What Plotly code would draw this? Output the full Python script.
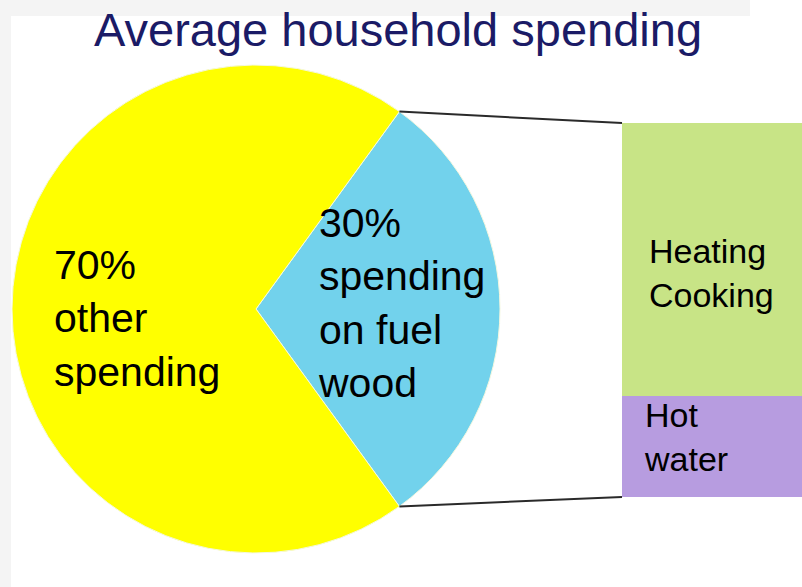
import math

import plotly.graph_objects as go

# ========= data =========
PIE_LABELS = ["spending on fuel wood", "other spending"]
PIE_VALUES = [30, 70]
PIE_COLORS = ["#72d2ec", "#ffff00"]

BAR_LABELS = ["Hot water", "Heating Cooking"]
BAR_VALUES = [27, 73]
BAR_COLORS = ["#b79ce0", "#c8e486"]

TITLE = "Average household spending"

# ========= page geometry (px) =========
W, H = 802, 587
PIE_BOX = (12, 65, 500, 553)       # left, top, right, bottom
BAR_BOX = (622, 123, 802, 497)
TEXT_FONT = "Liberation Sans, Arial, sans-serif"


def px(x):
    return x / W


def py(y):
    return 1 - y / H


fig = go.Figure()

# background strips (slide look)
fig.add_shape(type="rect", xref="paper", yref="paper", x0=0, x1=px(11), y0=0, y1=1,
              fillcolor="#f4f4f4", line_width=0, layer="below")
fig.add_shape(type="rect", xref="paper", yref="paper", x0=0, x1=px(750), y0=py(16), y1=1,
              fillcolor="#f4f4f4", line_width=0, layer="below")

# pie: fuel wood slice centred on 3 o'clock
share = PIE_VALUES[0] / sum(PIE_VALUES)
half = share * 180
fig.add_trace(go.Pie(
    labels=PIE_LABELS, values=PIE_VALUES, sort=False,
    direction="clockwise", rotation=90 - half,
    marker=dict(colors=PIE_COLORS, line=dict(color="#f4f8e0", width=1)),
    textinfo="none", hoverinfo="label+percent", showlegend=False,
    domain=dict(x=[px(PIE_BOX[0]), px(PIE_BOX[2])], y=[py(PIE_BOX[3]), py(PIE_BOX[1])]),
))

# stacked bar of the fuel wood share
for lab, val, col in zip(BAR_LABELS, BAR_VALUES, BAR_COLORS):
    fig.add_trace(go.Bar(
        x=[0], y=[val], width=1, name=lab, marker=dict(color=col, line_width=0),
        xaxis="x2", yaxis="y2", showlegend=False, hoverinfo="name+y",
    ))

# connector lines from slice edges to bar corners
cx = (PIE_BOX[0] + PIE_BOX[2]) / 2
cy = (PIE_BOX[1] + PIE_BOX[3]) / 2
r = (PIE_BOX[2] - PIE_BOX[0]) / 2
a = math.radians(half)
ex = cx + r * math.cos(a)
for sgn, by in [(-1, BAR_BOX[1]), (1, BAR_BOX[3])]:
    ey = cy + sgn * r * math.sin(a)
    fig.add_shape(type="line", xref="paper", yref="paper",
                  x0=px(ex), y0=py(ey), x1=px(BAR_BOX[0]), y1=py(by),
                  line=dict(color="#2a2a2a", width=2))

# texts
fig.add_annotation(x=px(398), y=py(29), xref="paper", yref="paper", text=TITLE,
                   showarrow=False, xanchor="center", yanchor="middle",
                   font=dict(family=TEXT_FONT, size=47, color="#1b1b66"))
fig.add_annotation(x=px(52), y=py(318), xref="paper", yref="paper",
                   text=f"{PIE_VALUES[1]}%<br>other<br>spending",
                   showarrow=False, xanchor="left", yanchor="middle", align="left",
                   font=dict(family=TEXT_FONT, size=41, color="#000000"))
fig.add_annotation(x=px(316), y=py(303), xref="paper", yref="paper",
                   text=f"{PIE_VALUES[0]}%<br>spending<br>on fuel<br>wood",
                   showarrow=False, xanchor="left", yanchor="middle", align="left",
                   font=dict(family=TEXT_FONT, size=41, color="#000000"))
fig.add_annotation(x=px(647), y=py(273), xref="paper", yref="paper",
                   text="Heating<br>Cooking",
                   showarrow=False, xanchor="left", yanchor="middle", align="left",
                   font=dict(family=TEXT_FONT, size=34, color="#000000"))
fig.add_annotation(x=px(642), y=py(437), xref="paper", yref="paper",
                   text="Hot<br>water",
                   showarrow=False, xanchor="left", yanchor="middle", align="left",
                   font=dict(family=TEXT_FONT, size=34, color="#000000"))

fig.update_layout(
    width=W, height=H, autosize=False,
    margin=dict(l=0, r=0, t=0, b=0),
    paper_bgcolor="#ffffff", plot_bgcolor="rgba(0,0,0,0)",
    barmode="stack", bargap=0,
    xaxis2=dict(domain=[px(BAR_BOX[0]), 1], range=[-0.5, 0.5], visible=False, fixedrange=True),
    yaxis2=dict(domain=[py(BAR_BOX[3]), py(BAR_BOX[1])], range=[0, sum(BAR_VALUES)],
                visible=False, fixedrange=True, anchor="x2"),
    xaxis=dict(visible=False), yaxis=dict(visible=False),
)

# page body has a default 8px margin; drop it so the figure fills the window
fig.write_html("out.html", config={"displayModeBar": False},
               post_script="document.body.style.margin='0';")
